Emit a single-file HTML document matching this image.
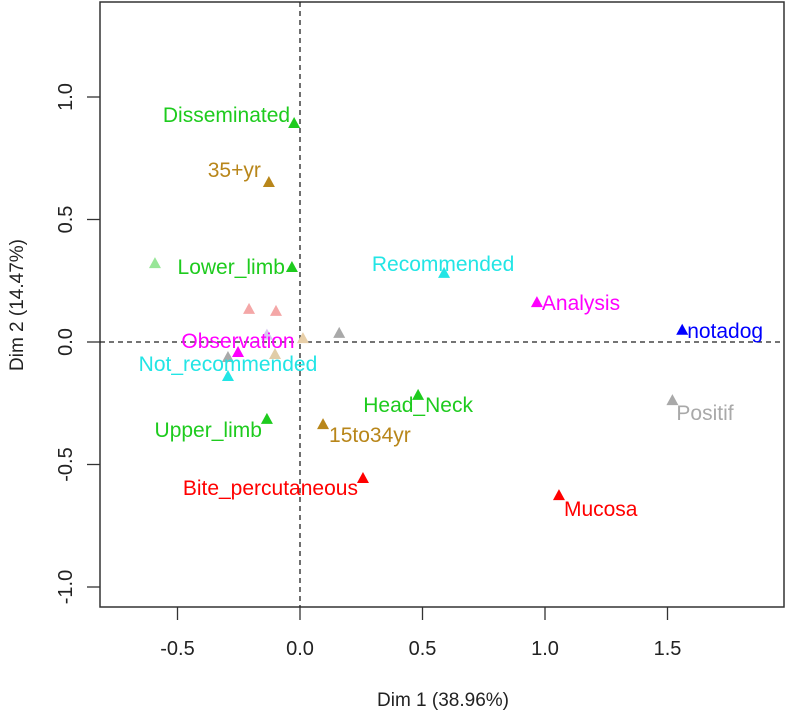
<!DOCTYPE html>
<html><head><meta charset="utf-8"><style>
html,body{margin:0;padding:0;background:#fff}
svg{display:block;font-family:"Liberation Sans",Arial,sans-serif}
</style></head><body>
<svg id="chart" width="787" height="713" viewBox="0 0 787 713" xmlns="http://www.w3.org/2000/svg">
<g id="axes"></g>
<g id="points"></g>
</svg>
<script>
const categories = ["Disseminated","35+yr","","Lower_limb","","","","","","Observation","","","Not_recommended","Recommended","Analysis","notadog","Positif","Head_Neck","Upper_limb","15to34yr","Bite_percutaneous","Mucosa"];
const dim1Values = [-0.024,-0.127,-0.592,-0.033,-0.208,-0.098,-0.135,0.012,0.160,-0.253,-0.294,-0.102,-0.294,0.588,0.967,1.560,1.520,0.482,-0.135,0.094,0.257,1.057];
const dim2Values = [0.894,0.653,0.322,0.306,0.135,0.127,0.030,0.016,0.037,-0.041,-0.061,-0.049,-0.139,0.282,0.163,0.050,-0.237,-0.216,-0.314,-0.335,-0.555,-0.625];
const pointColors = ["#1ecb1e","#b8861a","#98e698","#1ecb1e","#f4a7a7","#f4a7a7","#d8c8f0","#e8cfa8","#a9a9a9","#ff00ff","#a9a9a9","#e0cda8","#22e5e5","#22e5e5","#ff00ff","#0000ff","#a9a9a9","#1ecb1e","#1ecb1e","#b8861a","#ff0000","#ff0000"];
// label offsets (dx, dy, anchor) relative to point, styling only
const labelPos = [[-4,-1,"end"],[-8,-5,"end"],[0,0,"end"],[-7,7,"end"],[0,0,"end"],[0,0,"end"],[0,0,"end"],[0,0,"end"],[0,0,"end"],[0,-4,"middle"],[0,0,"end"],[0,0,"end"],[0,-5,"middle"],[-1,-2,"middle"],[5,8,"start"],[5,8,"start"],[4,20,"start"],[0,17,"middle"],[-5,18,"end"],[6,18,"start"],[-5,17,"end"],[5,21,"start"]];
const xTicks = [-0.5,0.0,0.5,1.0,1.5];
const yTicks = [-1.0,-0.5,0.0,0.5,1.0];

const L=100,R=784,T=2,B=607;
const X0=300,Y0=342,SX=245,SY=245;
const sx=v=>X0+v*SX, sy=v=>Y0-v*SY;
const NS="http://www.w3.org/2000/svg";
function mk(tag,attrs,parent,text){const e=document.createElementNS(NS,tag);for(const k in attrs)e.setAttribute(k,attrs[k]);if(text!==undefined)e.textContent=text;parent.appendChild(e);return e;}
const axes=document.getElementById('axes'), pts=document.getElementById('points');

let box=mk('rect',{x:L,y:T,width:R-L,height:B-T,fill:'none',stroke:'#333','stroke-width':1.5},axes);


let hz=mk('line',{x1:L,x2:R,y1:sy(0),y2:sy(0),stroke:'#222','stroke-width':1.3,'stroke-dasharray':'5,4'},axes);


let vt=mk('line',{x1:sx(0),x2:sx(0),y1:T,y2:B,stroke:'#222','stroke-width':1.3,'stroke-dasharray':'5,4'},axes);



xTicks.forEach(v=>{
  const x=sx(v);
  const t=mk('line',{x1:x,x2:x,y1:B,y2:B+13,stroke:'#333','stroke-width':1.3},axes);
  
  
  const l=mk('text',{x:x,y:B+48,'text-anchor':'middle','font-size':20,fill:'#222'},axes,v.toFixed(1));
  
  
});
yTicks.forEach(v=>{
  const y=sy(v);
  const t=mk('line',{x1:L-13,x2:L,y1:y,y2:y,stroke:'#333','stroke-width':1.3},axes);
  
  
  const l=mk('text',{x:0,y:0,'text-anchor':'middle','font-size':20,fill:'#222',transform:`translate(72,${y}) rotate(-90)`},axes,v.toFixed(1));
  
  
});
let xt=mk('text',{x:443,y:706,'text-anchor':'middle','font-size':19,fill:'#222'},axes,'Dim 1 (38.96%)');


let yt=mk('text',{x:0,y:0,'text-anchor':'middle','font-size':19,fill:'#222',transform:'translate(23,305) rotate(-90)'},axes,'Dim 2 (14.47%)');



categories.forEach((c,i)=>{
  const x=sx(dim1Values[i]), y=sy(dim2Values[i]);
  const p=mk('polygon',{points:`${x-6},${y+5} ${x+6},${y+5} ${x},${y-6}`,fill:pointColors[i]},pts);
  
  
  if(c){
    const lp=labelPos[i];
    const t=mk('text',{x:x+lp[0],y:y+lp[1],'text-anchor':lp[2],'font-size':21,fill:pointColors[i]},pts,c);
    
    
  }
});
</script>
</body></html>
